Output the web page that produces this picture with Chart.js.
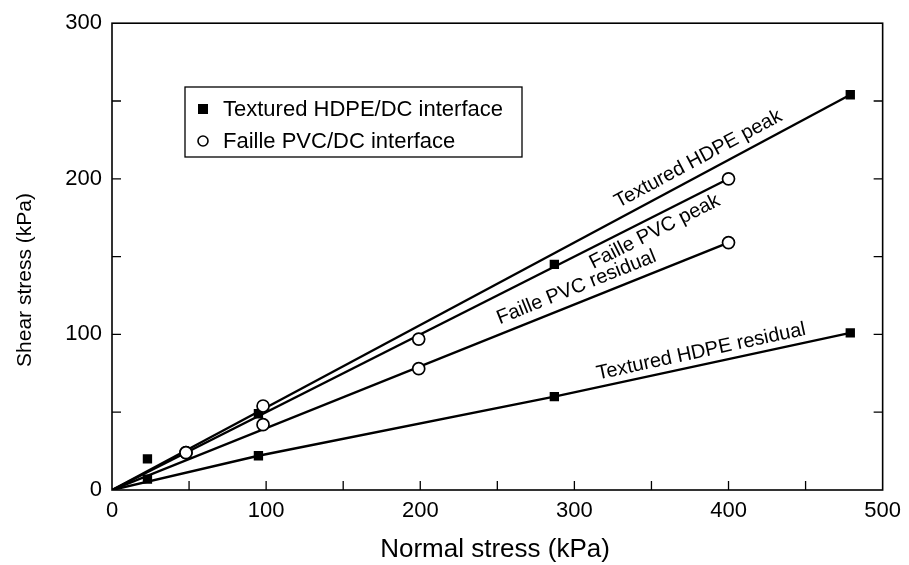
<!DOCTYPE html>
<html>
<head>
<meta charset="utf-8">
<script src="https://cdn.jsdelivr.net/npm/chart.js@4.4.0/dist/chart.umd.min.js"></script>
<style>
  html, body { margin: 0; padding: 0; background: #fff; }
  #wrap { width: 909px; height: 565px; }
</style>
</head>
<body>
<div id="wrap"><canvas id="c" width="909" height="565"></canvas></div>
<script>
// ---- data ----
const xTicks = [0, 100, 200, 300, 400, 500];
const yTicks = [0, 100, 200, 300];

const hdpeNormal   = [23, 95, 287, 479];
const hdpePeak     = [20, 49, 145, 254];
const hdpeResidual = [7, 22, 60, 101];

const pvcNormal    = [48, 98, 199, 400];
const pvcPeak      = [24, 54, 97, 200];
const pvcResidual  = [24, 42, 78, 159];

// fitted envelopes
const fitHdpePeakX = [0, 479];
const fitHdpePeakY = [0, 254];
const fitPvcPeakX  = [0, 400];
const fitPvcPeakY  = [0, 200];
const fitPvcResX   = [0, 400];
const fitPvcResY   = [0, 159];
const fitHdpeResX  = [0, 95, 287, 479];
const fitHdpeResY  = [0, 22, 60, 101];

const legendLabels = ['Textured HDPE/DC interface', 'Faille PVC/DC interface'];
const xTitle = 'Normal stress (kPa)';
const yTitle = 'Shear stress (kPa)';

const FONT = '"Liberation Sans", Arial, Helvetica, sans-serif';

const pts = (xs, ys) => xs.map((x, i) => ({x, y: ys[i]}));

const lineDs = (xs, ys) => ({
  data: pts(xs, ys), showLine: true, pointRadius: 0, borderColor: '#000',
  borderWidth: 2.4, fill: false, tension: 0, order: 2
});

const lineLabels = [
  {text: 'Textured HDPE peak',     xs: fitHdpePeakX, ys: fitHdpePeakY, at: 385, off: 15},
  {text: 'Faille PVC peak',        xs: fitPvcPeakX,  ys: fitPvcPeakY,  at: 348, off: -14},
  {text: 'Faille PVC residual',    xs: fitPvcResX,   ys: fitPvcResY,   at: 305, off: 15},
  {text: 'Textured HDPE residual', xs: fitHdpeResX,  ys: fitHdpeResY,  at: 384, off: 13}
];

const decor = {
  id: 'decor',
  afterDatasetsDraw(chart) {
    const {ctx, chartArea: a, scales: {x, y}} = chart;
    ctx.save();
    ctx.strokeStyle = '#000';
    ctx.fillStyle = '#000';
    // frame
    ctx.lineWidth = 1.6;
    ctx.strokeRect(a.left, a.top, a.right - a.left, a.bottom - a.top);
    // inward ticks
    const tl = 9;
    ctx.lineWidth = 1.3;
    ctx.beginPath();
    for (let v = 50; v < 500; v += 50) {
      const px = x.getPixelForValue(v);
      ctx.moveTo(px, a.bottom); ctx.lineTo(px, a.bottom - tl);
    }
    for (let v = 50; v < 300; v += 50) {
      const py = y.getPixelForValue(v);
      ctx.moveTo(a.left, py); ctx.lineTo(a.left + tl, py);
      ctx.moveTo(a.right, py); ctx.lineTo(a.right - tl, py);
    }
    ctx.stroke();

    // line labels
    ctx.font = '20px ' + FONT;
    ctx.textAlign = 'center';
    ctx.textBaseline = 'middle';
    lineLabels.forEach(l => {
      let i = 0;
      while (i < l.xs.length - 2 && l.at > l.xs[i + 1]) i++;
      const x1 = l.xs[i], x2 = l.xs[i + 1], y1 = l.ys[i], y2 = l.ys[i + 1];
      const yv = y1 + (y2 - y1) * (l.at - x1) / (x2 - x1);
      const p1x = x.getPixelForValue(x1), p1y = y.getPixelForValue(y1);
      const p2x = x.getPixelForValue(x2), p2y = y.getPixelForValue(y2);
      const th = Math.atan2(p2y - p1y, p2x - p1x);
      const px = x.getPixelForValue(l.at), py = y.getPixelForValue(yv);
      const cx = px + Math.sin(th) * l.off, cy = py - Math.cos(th) * l.off;
      ctx.save();
      ctx.translate(cx, cy);
      ctx.rotate(th);
      ctx.fillText(l.text, 0, 0);
      ctx.restore();
    });

    // legend
    ctx.lineWidth = 1.3;
    ctx.strokeRect(185, 87, 337, 70);
    ctx.font = '22px ' + FONT;
    ctx.textAlign = 'left';
    ctx.fillRect(198, 104, 10, 10);
    ctx.fillText(legendLabels[0], 223, 110);
    ctx.beginPath();
    ctx.lineWidth = 1.6;
    ctx.arc(203, 141, 5, 0, Math.PI * 2);
    ctx.stroke();
    ctx.fillText(legendLabels[1], 223, 142);

    // axis titles
    ctx.textAlign = 'center';
    ctx.font = '26px ' + FONT;
    ctx.fillText(xTitle, 495, 550);
    ctx.save();
    ctx.translate(25, 280);
    ctx.rotate(-Math.PI / 2);
    ctx.font = '21px ' + FONT;
    ctx.fillText(yTitle, 0, 0);
    ctx.restore();
    ctx.restore();
  }
};

new Chart(document.getElementById('c'), {
  type: 'scatter',
  data: {
    datasets: [
      lineDs(fitHdpePeakX, fitHdpePeakY),
      lineDs(fitPvcPeakX, fitPvcPeakY),
      lineDs(fitPvcResX, fitPvcResY),
      lineDs(fitHdpeResX, fitHdpeResY),
      {label: legendLabels[0], data: pts(hdpeNormal, hdpePeak).concat(pts(hdpeNormal, hdpeResidual)),
       pointStyle: 'rect', pointRadius: 6.6, backgroundColor: '#000', borderColor: '#000', borderWidth: 0, order: 1},
      {label: legendLabels[1], data: pts(pvcNormal, pvcPeak).concat(pts(pvcNormal, pvcResidual)),
       pointStyle: 'circle', pointRadius: 6, backgroundColor: '#fff', borderColor: '#000', borderWidth: 1.7, order: 0}
    ]
  },
  options: {
    responsive: false,
    animation: false,
    events: [],
    layout: {padding: {top: 22, right: 21, left: 0, bottom: 0}},
    plugins: {legend: {display: false}, tooltip: {enabled: false}},
    scales: {
      x: {
        type: 'linear', min: 0, max: 500,
        afterBuildTicks: s => { s.ticks = xTicks.map(v => ({value: v})); },
        afterFit: s => { s.height = 75; },
        grid: {display: false, drawTicks: false}, border: {display: false},
        ticks: {color: '#000', font: {family: FONT, size: 22}, padding: 8, maxRotation: 0}
      },
      y: {
        type: 'linear', min: 0, max: 300,
        afterBuildTicks: s => { s.ticks = yTicks.map(v => ({value: v})); },
        afterFit: s => { s.width = 112; },
        grid: {display: false, drawTicks: false}, border: {display: false},
        ticks: {color: '#000', font: {family: FONT, size: 22}, padding: 10}
      }
    }
  },
  plugins: [decor]
});
</script>
</body>
</html>
